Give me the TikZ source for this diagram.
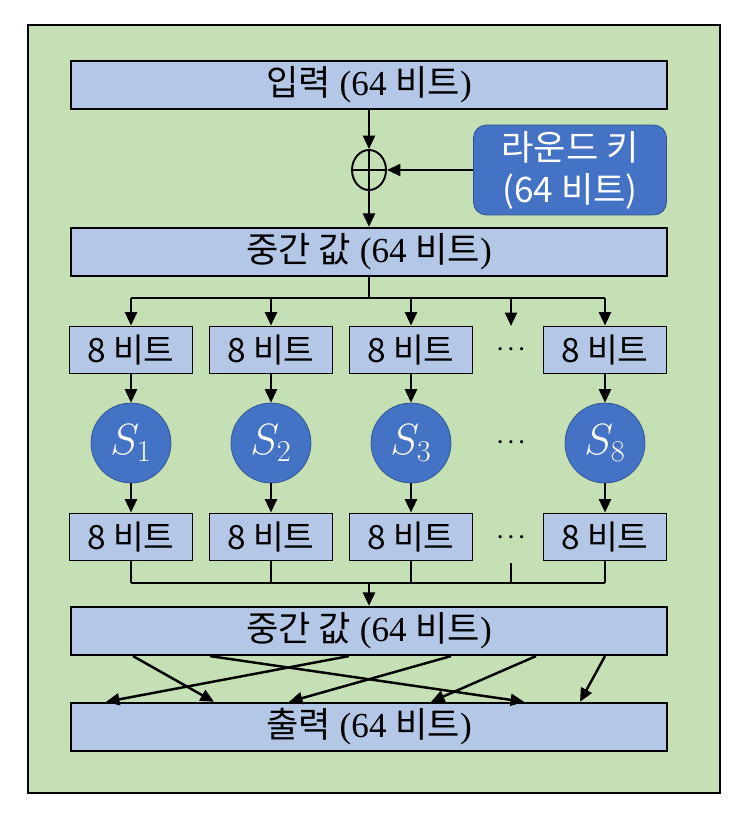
\documentclass[tikz,border=0pt]{standalone}
\usepackage{fontspec}
\setmainfont{Liberation Serif}
\newfontfamily\kr{Noto Sans CJK KR}
\usetikzlibrary{arrows.meta,shapes.geometric}
\definecolor{bggreen}{HTML}{C5E0B4}
\definecolor{boxblue}{HTML}{B4C7E7}
\definecolor{keyblue}{HTML}{4472C4}
\definecolor{sboxedge}{HTML}{2F528F}

\begin{document}
\begin{tikzpicture}[x=0.02cm,y=-0.02cm,
        wide/.style={draw,line width=1.1pt,fill=boxblue,minimum width=11.92cm,minimum height=0.96cm,font=\fontsize{20}{22}\selectfont},
        byte/.style={draw,line width=1.1pt,fill=boxblue,minimum width=2.46cm,minimum height=0.94cm,font=\kr\fontsize{19}{21}\selectfont},
        sbox/.style={circle,draw=sboxedge,fill=keyblue,minimum size=1.6cm,text=white,font=\fontsize{24}{26}\selectfont},
        flow/.style={line width=1.4pt,-{Triangle[length=2.7mm,width=2.4mm]}},
        wire/.style={line width=1.4pt}]
        % frame
        \fill[white] (0,0) rectangle (750,825);
        \draw[line width=0.8pt,fill=bggreen] (28,25) rectangle (720,793);
        % key mixing
        \node[wide] (input) at (369,85) {{\kr 입력} (64 {\kr 비트})};
        \node[ellipse,draw,line width=1.1pt,minimum width=0.68cm,minimum height=0.8cm,inner sep=0pt] (xor) at (369,170) {};
        \draw[line width=1.1pt] (xor.north) -- (xor.south) (xor.west) -- (xor.east);
        \node[draw=sboxedge,fill=keyblue,rounded corners=0.25cm,minimum width=3.86cm,minimum height=1.6cm,text=white,align=center,font=\kr\fontsize{20}{24}\selectfont] (key) at (570,170) {라운드 키\\(64 비트)};
        \node[wide] (mid1) at (369,252) {{\kr 중간 값} (64 {\kr 비트})};
        \draw[flow] (input) -- (xor);
        \draw[flow] (key) -- (xor);
        \draw[flow] (xor) -- (mid1);
        % split, S-boxes, join
        \coordinate (split) at (369,298);
        \coordinate (join) at (369,583);
        \draw[wire] (mid1) -- (split);
        \draw[wire] (131,298) -- (605,298);
        \draw[wire] (131,583) -- (605,583);
        \foreach \x/\i in {131/1,271/2,411/3,605/8} {
            \node[byte] (in\i) at (\x,350) {8 비트};
            \node[sbox] (s\i) at (\x,443) {$S_{\i}$};
            \node[byte] (out\i) at (\x,537) {8 비트};
            \draw[flow] (in\i.north |- split) -- (in\i);
            \draw[flow] (in\i) -- (s\i);
            \draw[flow] (s\i) -- (out\i);
            \draw[wire] (out\i) -- (out\i.south |- join);
        }
        \foreach \y/\n in {350/a,443/b,537/c}
            \node[font=\fontsize{13}{15}\selectfont\boldmath] (dots\n) at (511,\y) {$\cdots$};
        \coordinate (dtop) at (511,326);
        \coordinate (dbot) at (511,563);
        \draw[flow] (dtop |- split) -- (dtop);
        \draw[wire] (dbot) -- (dbot |- join);
        % permutation
        \node[wide] (mid2) at (369,631) {{\kr 중간 값} (64 {\kr 비트})};
        \node[wide] (output) at (369,727) {{\kr 출력} (64 {\kr 비트})};
        \draw[flow] (join) -- (mid2);
        \foreach \a/\b in {133/214,210/524,349/106,451/289,536/431,605/580}
            \draw[flow] (\a,0 |- mid2.south) -- (\b,0 |- output.north);
    \end{tikzpicture}
\end{document}
